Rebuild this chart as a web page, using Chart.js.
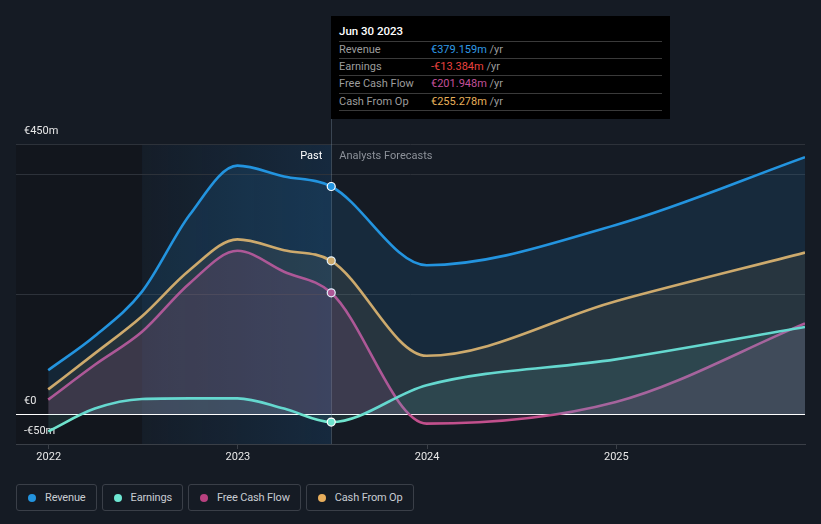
<!DOCTYPE html>
<html><head><meta charset="utf-8">
<script src="https://cdn.jsdelivr.net/npm/chart.js@4.4.0/dist/chart.umd.min.js"></script>
<style>
html,body{margin:0;padding:0;background:#151b24;width:821px;height:524px;overflow:hidden;font-family:Roboto,"Noto Sans",sans-serif;}
#wrap{position:absolute;left:0;top:0;width:821px;height:470px;}
#tip{position:absolute;top:16px;width:339px;height:103px;background:#000;box-sizing:border-box;padding:0 8px;}
#tip .t{color:#fff;font-size:11.5px;font-weight:500;height:24.5px;line-height:30px;border-bottom:1px solid #3a3a3a;}
#tip .r{height:16.4px;line-height:16.4px;font-size:11px;border-bottom:1px solid #3a3a3a;color:#9c9c9c;white-space:nowrap;position:relative;}
#tip .r span.v{position:absolute;left:92px;}
#tip .r span.u{color:#9c9c9c;}
.lab{position:absolute;top:149px;font-size:11px;line-height:14px;white-space:nowrap;}
#legend{position:absolute;left:16px;top:484px;display:flex;gap:5px;}
#legend .b{height:27px;box-sizing:border-box;border:1px solid #3a3f48;border-radius:3px;display:flex;align-items:center;padding:0 10px 0 11px;color:#c8ccd2;font-size:11px;letter-spacing:-0.15px;}
#legend .d{width:8px;height:8px;border-radius:50%;margin-right:9px;}
</style></head><body>
<div id="wrap"><canvas id="c" width="821" height="470"></canvas></div>
<div id="tip"></div>
<div class="lab" id="past" style="color:#fff">Past</div>
<div class="lab" id="fc" style="color:#8c9199">Analysts Forecasts</div>
<div id="legend"></div>
<script>
const dates = ['2021-12-31','2022-03-31','2022-06-30','2022-09-30','2022-12-31','2023-03-31','2023-06-30','2023-12-31','2024-12-31','2025-12-31'];
const revenue = [73,130,204,332,414,396,379.159,248,315,428];
const earnings = [-29,9,25,26,26,9,-13.384,48,91,145];
const freeCashFlow = [24,82,137,218,272,237,201.948,-16,20,151];
const cashFromOp = [41,101,163,240,291,273,255.278,97,188,269];
const seriesNames = ['Revenue','Earnings','Free Cash Flow','Cash From Op'];
const xTicks = [2022,2023,2024,2025];
const yTicks = [-50,0,200,400,450];
const yTickLabels = {'-50':'-€50m','0':'€0','450':'€450m'};
const highlightIndex = 6;
const highlightStart = '2022-06-30';
const xMin = 2021.827;
const yMin = -50, yMax = 450;

const colors = ['#2394df','#6fe3cd','#c2508d','#e6ae5c'];
const fills = ['rgba(35,148,223,0.13)','rgba(111,227,205,0.10)','rgba(194,80,141,0.16)','rgba(230,174,92,0.09)'];
const legendDots = ['#2394df','#6ee7d3','#b8417f','#e8ae5c'];
const valueColors = ['#2f9ae6','#6fe3cd','#c2509a','#e8b05a'];

function toYear(s){const d=new Date(s+'T00:00:00Z');const y=d.getUTCFullYear();const a=Date.UTC(y,0,1),b=Date.UTC(y+1,0,1);return y+(d-a)/(b-a);}
const xs = dates.map(toYear);
const seriesData = [revenue, earnings, freeCashFlow, cashFromOp];

const bgPlugin = {
  id:'bg',
  beforeDraw(chart){
    const {ctx, chartArea:a, scales:{x}} = chart;
    const x1 = x.getPixelForValue(toYear(highlightStart));
    const x2 = x.getPixelForValue(xs[highlightIndex]);
    ctx.save();
    ctx.fillStyle = '#12161d';
    ctx.fillRect(a.left, a.top, x1-a.left, a.bottom-a.top);
    const g = ctx.createLinearGradient(x1,0,x2,0);
    g.addColorStop(0,'rgba(30,120,200,0.03)');
    g.addColorStop(1,'rgba(30,120,200,0.16)');
    ctx.fillStyle = g;
    ctx.fillRect(x1, a.top, x2-x1, a.bottom-a.top);
    ctx.restore();
  },
  beforeDatasetsDraw(chart){
    const {ctx, chartArea:a, scales:{x}} = chart;
    const x2 = Math.round(x.getPixelForValue(xs[highlightIndex]))+0.5;
    ctx.save();
    ctx.strokeStyle = 'rgba(130,150,170,0.35)';
    ctx.lineWidth = 1;
    ctx.beginPath(); ctx.moveTo(x2, 16); ctx.lineTo(x2, a.bottom); ctx.stroke();
    ctx.restore();
  }
};

Chart.defaults.font.family = 'Roboto, "Noto Sans", sans-serif';
const chart = new Chart(document.getElementById('c'), {
  type:'line',
  data:{
    datasets: seriesNames.map((n,i)=>({
      label:n,
      data: xs.map((x,j)=>({x, y: seriesData[i][j]})),
      borderColor: colors[i],
      backgroundColor: fills[i],
      fill:'origin',
      borderWidth:2.6,
      cubicInterpolationMode:'monotone',
      pointRadius: ctx => ctx.dataIndex===highlightIndex ? 4 : 0,
      pointHoverRadius:0,
      pointBackgroundColor: colors[i],
      pointBorderColor:'#ffffff',
      pointBorderWidth:1.2
    }))
  },
  options:{
    responsive:false, animation:false, events:[],
    layout:{padding:{left:16,right:16,top:144,bottom:0}},
    plugins:{legend:{display:false}, tooltip:{enabled:false}},
    scales:{
      x:{
        type:'linear', min:xMin, max:xs[xs.length-1],
        afterBuildTicks: s => { s.ticks = xTicks.map(v=>({value:v})); },
        afterFit: s => { s.height = 26; },
        grid:{drawOnChartArea:false, drawTicks:true, tickLength:5, color:'#3a3f47'},
        border:{display:true, color:'#3a3f47'},
        ticks:{color:'#e8e8e8', font:{size:11}, padding:2, autoSkip:false, maxRotation:0, callback: v => String(v)}
      },
      y:{
        type:'linear', min:yMin, max:yMax,
        afterBuildTicks: s => { s.ticks = yTicks.map(v=>({value:v})); },
        afterFit: s => { s.width = 0; },
        grid:{drawTicks:false, color: c => c.tick && c.tick.value===0 ? '#ffffff' : '#2d323a', lineWidth:1},
        border:{display:false},
        ticks:{mirror:true, padding:8, labelOffset:-12.5, color:'#e8e8e8', font:{size:11}, autoSkip:false,
          callback: v => (yTickLabels[String(v)] ?? '')}
      }
    }
  },
  plugins:[bgPlugin]
});

// overlays
const xp = chart.scales.x.getPixelForValue(xs[highlightIndex]);
const tip = document.getElementById('tip');
tip.style.left = Math.round(xp) + 'px';
const d = new Date(dates[highlightIndex]+'T00:00:00Z');
const mon = ['Jan','Feb','Mar','Apr','May','Jun','Jul','Aug','Sep','Oct','Nov','Dec'][d.getUTCMonth()];
let html = '<div class="t">'+mon+' '+d.getUTCDate()+' '+d.getUTCFullYear()+'</div>';
const fmt = v => (v<0?'-':'')+'€'+Math.abs(v).toFixed(3)+'m';
[0,1,2,3].forEach(i=>{
  const v = seriesData[i][highlightIndex];
  const col = (i===1 && v<0) ? '#e8423f' : valueColors[i];
  html += '<div class="r">'+seriesNames[i]+'<span class="v"><span style="color:'+col+'">'+fmt(v)+'</span> <span class="u">/yr</span></span></div>';
});
tip.innerHTML = html;
const past = document.getElementById('past');
past.style.left = (xp - 9 - past.offsetWidth) + 'px';
document.getElementById('fc').style.left = (xp + 8) + 'px';

const lg = document.getElementById('legend');
seriesNames.forEach((n,i)=>{
  const b = document.createElement('div'); b.className='b';
  b.innerHTML = '<span class="d" style="background:'+legendDots[i]+'"></span>'+n;
  lg.appendChild(b);
});
</script>
</body></html>
